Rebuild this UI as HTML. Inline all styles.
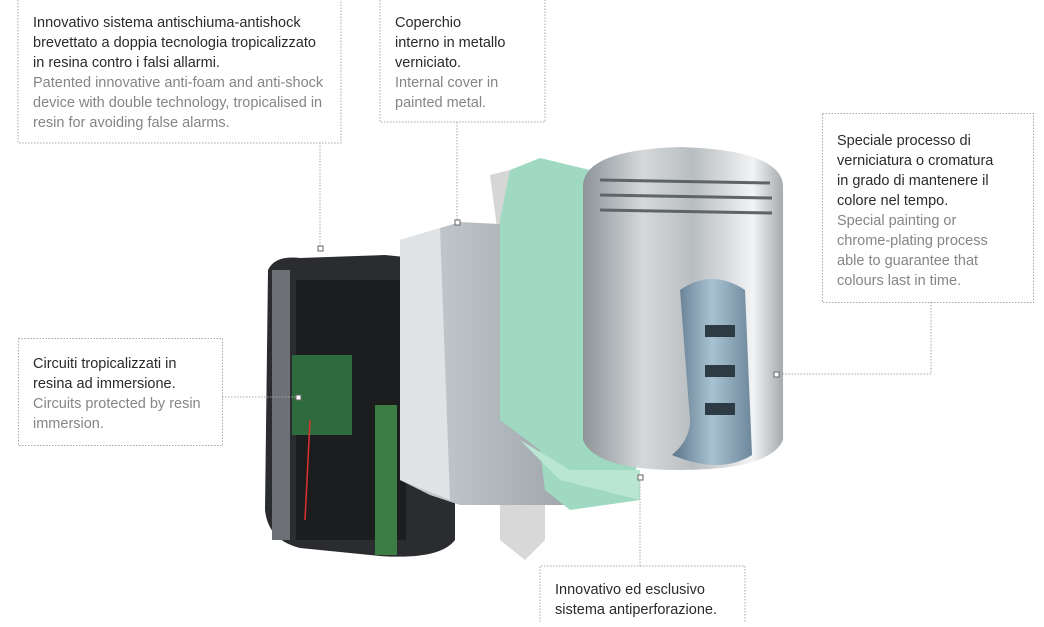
<!DOCTYPE html>
<html><head><style>
body{margin:0;background:#fff;width:1044px;height:622px;overflow:hidden}
svg text{font-family:"Liberation Sans",sans-serif;font-size:14.5px}
.k{fill:#2a2a2a}.g{fill:#858585}
</style></head><body>
<svg width="1044" height="622" viewBox="0 0 1044 622">
<defs>
<linearGradient id="cyl" x1="0" x2="1"><stop offset="0" stop-color="#8d9398"/><stop offset=".3" stop-color="#d4d8da"/><stop offset=".55" stop-color="#b9bec1"/><stop offset=".85" stop-color="#f2f3f4"/><stop offset="1" stop-color="#a5aaae"/></linearGradient>
<linearGradient id="met" x1="0" x2="1"><stop offset="0" stop-color="#c9cfd3"/><stop offset="1" stop-color="#9aa1a6"/></linearGradient>
<linearGradient id="win" x1="0" x2="1"><stop offset="0" stop-color="#5b7488"/><stop offset=".5" stop-color="#a9c2d3"/><stop offset="1" stop-color="#6d889b"/></linearGradient>
</defs>
<path d="M490 175 L530 165 L530 240 L500 250Z" fill="#d6d6d6"/>
<path d="M500 505 L545 505 L545 540 L525 560 L500 540Z" fill="#d8d8d8"/>
<path d="M268 270 Q275 255 300 258 L385 255 L455 262 L455 540 Q440 560 380 556 L300 548 Q268 540 265 510Z" fill="#2a2c2f"/>
<rect x="272" y="270" width="18" height="270" fill="#6d7176"/>
<rect x="296" y="280" width="110" height="260" fill="#1b1d1f"/>
<rect x="292" y="355" width="60" height="80" fill="#2d6b3c"/>
<rect x="375" y="405" width="22" height="150" fill="#3b7d43"/>
<path d="M310 420 L305 520" stroke="#d33" stroke-width="1.5"/>
<path d="M400 240 L460 222 L520 225 L540 235 L590 240 L590 505 L460 505 L430 495 L400 480Z" fill="url(#met)"/>
<path d="M400 240 L440 228 L450 500 L400 480Z" fill="#dfe3e6"/>
<path d="M500 220 L510 170 L540 158 L590 170 L610 250 L640 500 L570 510 L545 490 L540 450 L500 420Z" fill="#9fd9c2"/>
<path d="M520 440 L560 480 L640 500 L640 470 L570 470Z" fill="#b9e6d3"/>
<path d="M583 185 Q585 150 680 147 Q780 150 783 185 L783 440 Q770 470 680 470 Q595 470 583 440Z" fill="url(#cyl)"/>
<g stroke="#5e6468" stroke-width="3"><line x1="600" y1="180" x2="770" y2="183"/><line x1="600" y1="195" x2="772" y2="198"/><line x1="600" y1="210" x2="772" y2="213"/></g>
<path d="M680 290 Q712 268 745 290 L752 455 Q720 475 672 455 Q690 440 690 420Z" fill="url(#win)"/>
<g fill="#2e3b45"><rect x="705" y="325" width="30" height="12"/><rect x="705" y="365" width="30" height="12"/><rect x="705" y="403" width="30" height="12"/></g>
<g fill="none" stroke="#a8a8a8" stroke-dasharray="1.5 1.5" stroke-width="1">
<path d="M18 0 V143 H341 V0"/>
<path d="M380 0 V122 H545 V0"/>
<rect x="822.5" y="113.5" width="211" height="189"/>
<rect x="18.5" y="338.5" width="204" height="107"/>
<path d="M540 622 V566 H745 V622"/>
<path d="M320 143 V246"/><path d="M457 122 V220"/>
<path d="M931 302 V374 H780"/><path d="M222 397 H296"/><path d="M640 566 V481"/>
</g>
<g fill="#fff" stroke="#666" stroke-width="1">
<rect x="318" y="246" width="5" height="5"/><rect x="455" y="220" width="5" height="5"/>
<rect x="774" y="372" width="5" height="5"/><rect x="296" y="395" width="5" height="5"/><rect x="638" y="475" width="5" height="5"/>
</g>
<text x="33" y="27" class="k">Innovativo sistema antischiuma-antishock</text>
<text x="33" y="47" class="k">brevettato a doppia tecnologia tropicalizzato</text>
<text x="33" y="67" class="k">in resina contro i falsi allarmi.</text>
<text x="33" y="87" class="g">Patented innovative anti-foam and anti-shock</text>
<text x="33" y="107" class="g">device with double technology, tropicalised in</text>
<text x="33" y="127" class="g">resin for avoiding false alarms.</text>
<text x="395" y="27" class="k">Coperchio</text>
<text x="395" y="47" class="k">interno in metallo</text>
<text x="395" y="67" class="k">verniciato.</text>
<text x="395" y="87" class="g">Internal cover in</text>
<text x="395" y="107" class="g">painted metal.</text>
<text x="837" y="145" class="k">Speciale processo di</text>
<text x="837" y="165" class="k">verniciatura o cromatura</text>
<text x="837" y="185" class="k">in grado di mantenere il</text>
<text x="837" y="205" class="k">colore nel tempo.</text>
<text x="837" y="225" class="g">Special painting or</text>
<text x="837" y="245" class="g">chrome-plating process</text>
<text x="837" y="265" class="g">able to guarantee that</text>
<text x="837" y="285" class="g">colours last in time.</text>
<text x="33" y="368" class="k">Circuiti tropicalizzati in</text>
<text x="33" y="388" class="k">resina ad immersione.</text>
<text x="33" y="408" class="g">Circuits protected by resin</text>
<text x="33" y="428" class="g">immersion.</text>
<text x="555" y="594" class="k">Innovativo ed esclusivo</text>
<text x="555" y="614" class="k">sistema antiperforazione.</text>
</svg>
</body></html>
